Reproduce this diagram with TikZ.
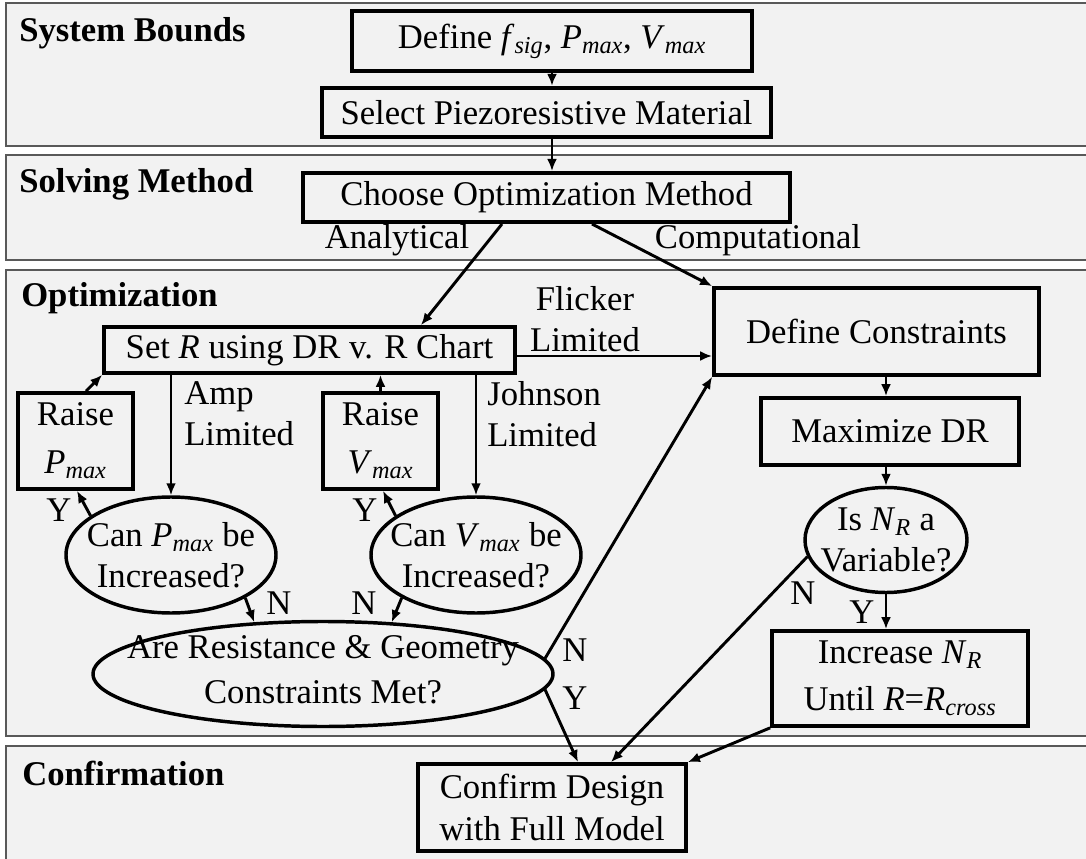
\documentclass[tikz,border=0pt]{standalone}
\usepackage{fontspec}
\setmainfont{Liberation Serif}
\usetikzlibrary{arrows.meta,calc,shapes.geometric}
\newcommand\myPmax{\textit{P}\textsubscript{\textit{max}}}
\newcommand\myVmax{\textit{V}\textsubscript{\textit{max}}}
\newcommand\myNR{\textit{N}\textsubscript{\textit{R}}}
\begin{document}
\begin{tikzpicture}[x=0.75pt,y=-0.75pt,
 font=\fontsize{26}{31}\selectfont,
 band/.style={fill=black!5, draw=black!65, line width=1.4pt},
 bx/.style={draw, line width=2.8pt, align=center, inner sep=0pt},
 ell/.style={draw, ellipse, line width=2.6pt, inner sep=0pt},
 txt/.style={align=center, inner sep=0pt},
 lft/.style={align=left, inner sep=0pt, anchor=west},
 arr/.style={-{Latex[length=9pt,width=7.5pt]}, line width=2.2pt},
 hd/.style={font=\fontsize{26}{31}\selectfont\bfseries, anchor=base west, inner sep=0pt}]
\useasboundingbox (0,0) rectangle (1086,859);
% bands
\path[band] (6,3) rectangle (1100,146);
\path[band] (6,155) rectangle (1100,260);
\path[band] (6,270) rectangle (1100,736);
\path[band] (6,746) rectangle (1100,875);
\node[hd] (h1) at (19,42) {System Bounds};
\node[hd] (h2) at (19,193) {Solving Method};
\node[hd] (h3) at (21,307) {Optimization};
\node[hd] (h4) at (22,785) {Confirmation};
% boxes
\node[bx, line width=3.3pt, minimum width=300pt, minimum height=45pt] (def) at (552,41) {Define \textit{f}\textsubscript{\textit{sig}}, \myPmax, \myVmax};
\node[bx, line width=3.3pt, minimum width=336.75pt, minimum height=36.75pt] (sel) at (546.5,112.5) {Select Piezoresistive Material};
\node[bx, line width=3pt, minimum width=365.25pt, minimum height=36.75pt] (cho) at (546.5,197.5) {Choose Optimization Method};
\node[bx, minimum width=308.25pt, minimum height=34.5pt] (setr) at (309.5,350) {Set \textit{R} using DR v. R Chart};
\node[bx, minimum width=243.75pt, minimum height=65.25pt] (dc) at (876.5,331.5) {Define Constraints};
\node[bx, minimum width=86.25pt, minimum height=72pt] (rp) at (75.5,441) {Raise\\[5pt]\myPmax};
\node[bx, minimum width=86.25pt, minimum height=72pt] (rv) at (380.5,441) {Raise\\[5pt]\myVmax};
\node[bx, minimum width=193.5pt, minimum height=50.25pt] (max) at (890,431.5) {Maximize DR};
\node[bx, minimum width=192pt, minimum height=71.25pt] (inc) at (900,678.5) {Increase \myNR\\[4pt]Until \textit{R}=\textit{R}\textsubscript{\textit{cross}}};
\node[bx, minimum width=201pt, minimum height=65.25pt] (conf) at (552,807.5) {Confirm Design\\with Full Model};
% ellipses
\node[ell, minimum width=157.5pt, minimum height=87pt, label={[txt]center:{Can \myPmax{} be\\Increased?}}] (e1) at (171,555) {};
\node[ell, minimum width=157.5pt, minimum height=87pt, label={[txt]center:{Can \myVmax{} be\\Increased?}}] (e2) at (476,555) {};
\node[ell, minimum width=345pt, minimum height=78.75pt, label={[txt, yshift=3pt]center:{Are Resistance \& Geometry\\[3pt]Constraints Met?}}] (big) at (323,674) {};
\node[ell, minimum width=121.5pt, minimum height=78.75pt, label={[txt]center:{Is \myNR{} a\\Variable?}}] (e3) at (886,540) {};
% labels
\node[txt] (lan) at (397,240) {Analytical};
\node[txt] (lco) at (758,240) {Computational};
\node[txt] (lfl) at (585,319) {Flicker\\Limited};
\node[lft] (lam) at (184,414) {Amp\\Limited};
\node[lft] (ljo) at (487,414) {Johnson\\Limited};
\node[txt] (y1) at (59,510) {Y};
\node[txt] (y2) at (365,510) {Y};
\node[txt] (n1) at (279,603) {N};
\node[txt] (n2) at (364,603) {N};
\node[txt] (n3) at (575,650) {N};
\node[txt] (y3) at (575,698) {Y};
\node[txt] (n4) at (803,593) {N};
\node[txt] (y4) at (862,612) {Y};
% connectors
\draw[arr] (def.south) -- (def.south |- sel.north);
\draw[arr] (def.south |- sel.south) -- (def.south |- cho.north);
\draw[arr] ($(cho.south)+(-44.5,0)$) -- ($(setr.north)+(111.5,0)$);
\draw[arr] ($(cho.south)+(45.5,0)$) -- (dc.north west);
\draw[arr] ($(setr.east)+(0,6)$) -- (dc.west |- 0,356);
\draw[arr] ($(rp.north)+(10.5,0)$) -- (setr.south west);
\draw[arr] (rv.north) -- (rv.north |- setr.south);
\draw[arr] (e1.north |- setr.south) -- (e1.north);
\draw[arr] (e2.north |- setr.south) -- (e2.north);
\draw[arr] (e1.154) -- ($(rp.south)+(1.5,0)$);
\draw[arr] (e2.154) -- ($(rv.south)+(2.5,0)$);
\draw[arr] (e1.-30) -- (big.143);
\draw[arr] (e2.-150) -- (big.37);
\draw[arr] (big.4) -- (dc.south west);
\draw[arr] (big.-4) -- ($(conf.north)+(26,0)$);
\draw[arr] (e3.north |- dc.south) -- (e3.north |- max.north);
\draw[arr] (e3.north |- max.south) -- (e3.north);
\draw[arr] (e3.south) -- (e3.south |- inc.north);
\draw[arr] (e3.192) -- ($(conf.north)+(59,0)$);
\draw[arr] (inc.south west) -- (conf.north east);
\end{tikzpicture}
\end{document}
